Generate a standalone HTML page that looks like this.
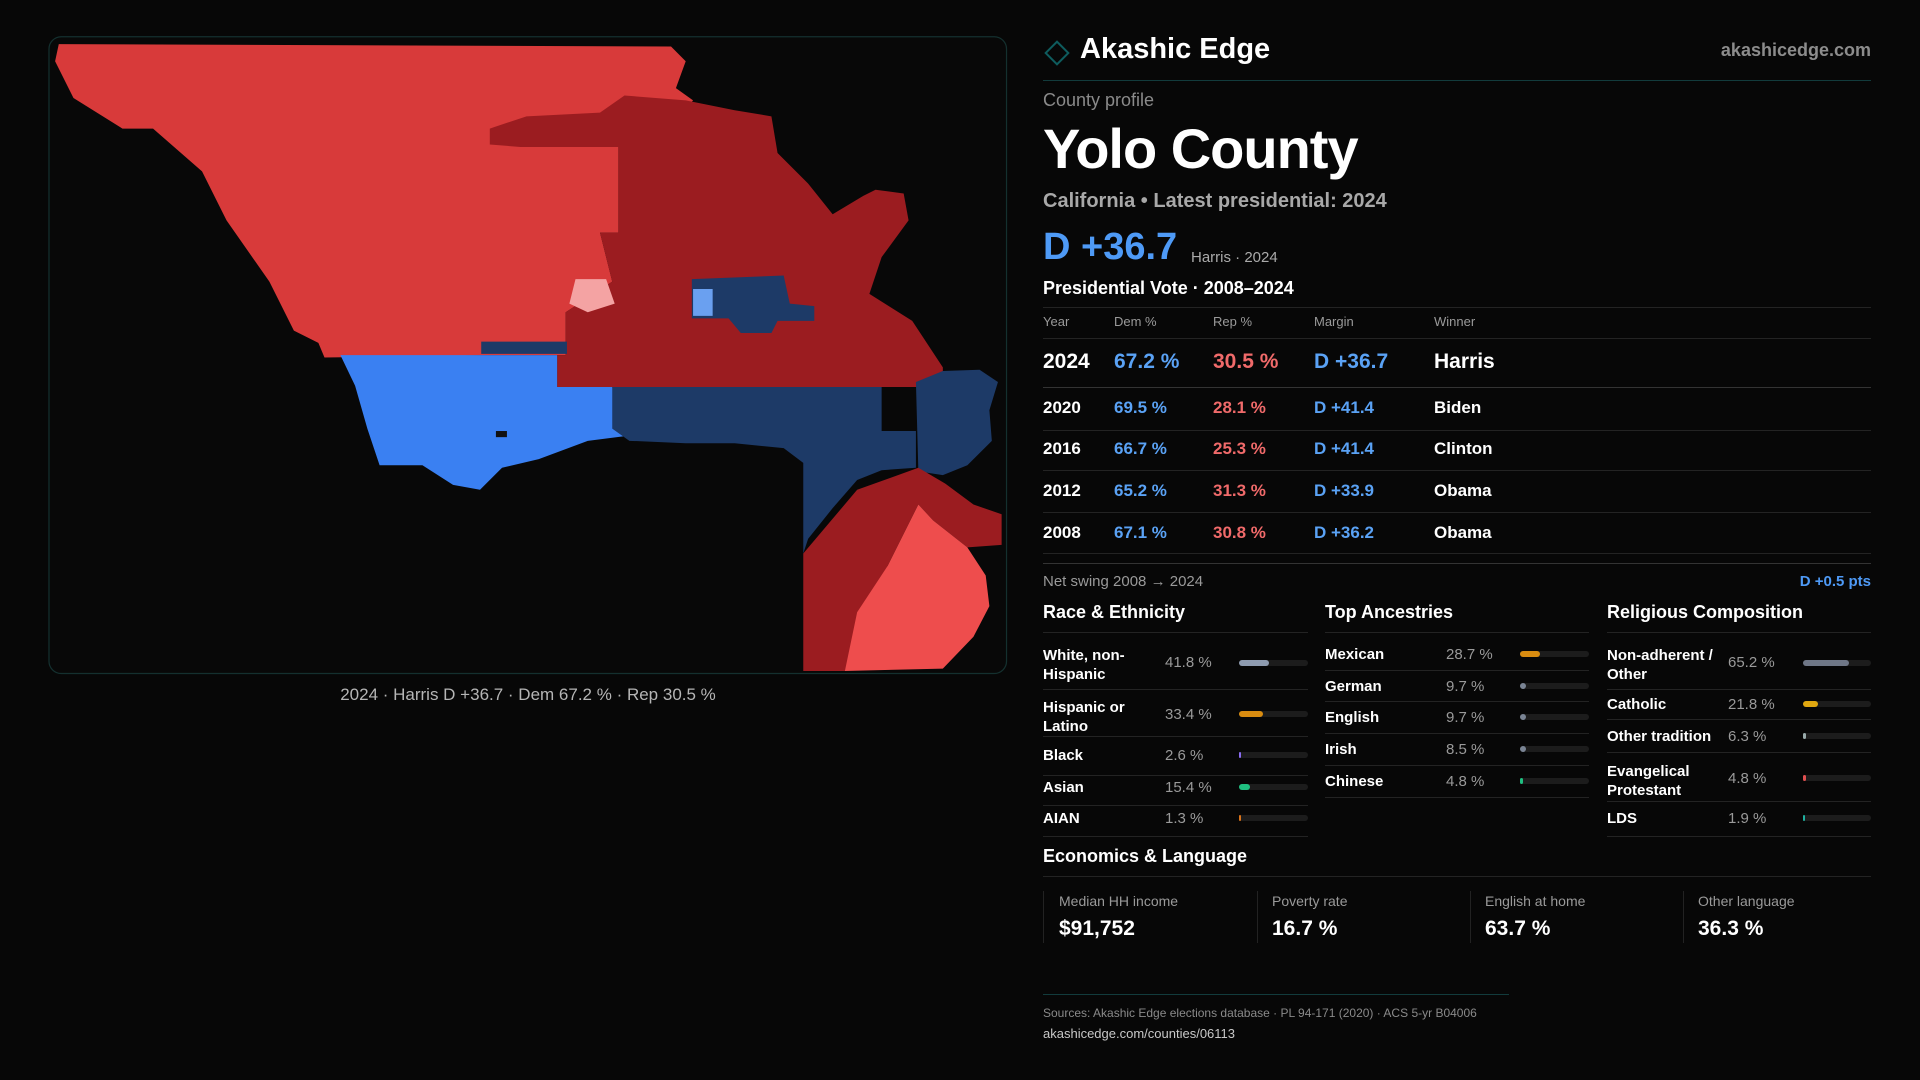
<!DOCTYPE html>
<html><head><meta charset="utf-8"><style>
*{margin:0;padding:0;box-sizing:border-box}
body{width:1920px;height:1080px;background:#070707;font-family:"Liberation Sans",sans-serif;color:#fff;position:relative;overflow:hidden}
.t{position:absolute;white-space:nowrap;line-height:1}
.g{color:#9a9a9a}
.b{color:#5aa2f5}
.r{color:#f06a6a}
.hl{position:absolute;height:1px;background:#232323}
.bar{position:absolute;height:6px;border-radius:3px;background:#1c1c1c}
.bar i{position:absolute;left:0;top:0;height:6px;border-radius:3px}
</style></head><body>
<svg style="position:absolute;left:0;top:0" width="1920" height="1080" viewBox="0 0 1568 882">
<rect x="40" y="30" width="782" height="520" rx="10" fill="#080808" stroke="#14302f" stroke-width="1"/>
<polygon fill="#d83a3a" points="48,36 548,38 560,50 552,72 566,82 550,100 505,110 505,190 490,190 500,230 462,255 462,290 400,290 265,292 260,280 240,270 220,230 185,180 165,140 125,105 100,105 60,80 45,50"/>
<polygon fill="#9b1c20" points="400,105 430,95 490,92 510,78 560,82 600,90 630,95 635,125 660,150 680,175 705,160 715,155 738,158 742,180 720,210 710,240 745,262 770,300 770,316 455,316 455,290 462,290 462,255 500,230 490,190 505,190 505,120 425,120 400,118"/>
<polygon fill="#f4a3a3" points="470,228 495,228 502,248 480,255 465,248"/>
<polygon fill="#1d3a67" points="565,228 640,225 645,248 665,250 665,262 635,262 630,272 605,272 595,260 565,260"/>
<polygon fill="#6aa0f0" points="566,236 582,236 582,258 566,258"/>
<polygon fill="#3a80f2" points="278,290 455,290 455,316 500,316 512,356 480,360 440,375 410,382 392,400 370,396 345,380 310,380 300,350 290,315"/>
<polygon fill="#1d3a67" points="500,316 720,316 720,352 748,352 748,382 720,384 700,392 680,415 660,440 656,452 656,378 640,366 600,362 560,362 514,360 500,350"/>
<polygon fill="#1d3a67" points="748,312 770,303 800,302 815,312 808,335 810,360 790,380 770,388 750,385"/>
<polygon fill="#9b1c20" points="656,452 700,400 750,382 772,395 795,412 818,420 818,445 790,447 762,425 750,412 725,462 690,548 656,548"/>
<polygon fill="#ee4d4d" points="750,412 762,425 790,447 805,470 808,495 795,520 770,546 690,548 700,500 725,462"/>
<rect x="393" y="279" width="70" height="10" fill="#1d3a67"/>
<rect x="405" y="352" width="9" height="5" fill="#111"/>
</svg>
<div class="t" style="left:0;width:1056px;text-align:center;top:686px;font-size:17px;color:#b5b5b5">2024 · Harris D +36.7 · Dem 67.2 % · Rep 30.5 %</div>

<div style="position:absolute;left:1048px;top:44px;width:18px;height:18px;border:2px solid #0e5c5e;transform:rotate(45deg)"></div>
<div class="t" style="left:1080px;top:35px;font-size:29px;font-weight:bold">Akashic Edge</div>
<div class="t g" style="right:49px;top:41px;font-size:18px;font-weight:bold;color:#8c8c8c">akashicedge.com</div>
<div class="hl" style="left:1043px;width:828px;top:80px;background:#123b3c"></div>
<div class="t g" style="left:1043px;top:91px;font-size:18px;color:#8a8a8a">County profile</div>
<div class="t" style="left:1043px;top:121px;font-size:56px;font-weight:bold;letter-spacing:-1px">Yolo County</div>
<div class="t" style="left:1043px;top:191px;font-size:20px;font-weight:bold;color:#a8a8a8">California • Latest presidential: 2024</div>
<div class="t b" style="left:1043px;top:228px;font-size:38px;font-weight:bold;color:#4e9af6">D +36.7</div>
<div class="t" style="left:1191px;top:250px;font-size:15px;color:#aaa">Harris · 2024</div>
<div class="t" style="left:1043px;top:279px;font-size:18px;font-weight:bold">Presidential Vote · 2008–2024</div>
<div class="hl" style="left:1043px;width:828px;top:307px"></div>
<div class="t g" style="left:1043px;top:315px;font-size:13px">Year</div>
<div class="t g" style="left:1114px;top:315px;font-size:13px">Dem %</div>
<div class="t g" style="left:1213px;top:315px;font-size:13px">Rep %</div>
<div class="t g" style="left:1314px;top:315px;font-size:13px">Margin</div>
<div class="t g" style="left:1434px;top:315px;font-size:13px">Winner</div>
<div class="hl" style="left:1043px;width:828px;top:338px"></div>
<div class="t" style="left:1043px;top:351px;font-size:21px;font-weight:bold">2024</div>
<div class="t b" style="left:1114px;top:351px;font-size:21px;font-weight:bold">67.2 %</div>
<div class="t r" style="left:1213px;top:351px;font-size:21px;font-weight:bold">30.5 %</div>
<div class="t b" style="left:1314px;top:351px;font-size:21px;font-weight:bold">D +36.7</div>
<div class="t" style="left:1434px;top:351px;font-size:21px;font-weight:bold">Harris</div>
<div class="hl" style="left:1043px;width:828px;top:387px;background:#333"></div>
<div class="t" style="left:1043px;top:399px;font-size:17px;font-weight:bold">2020</div><div class="t b" style="left:1114px;top:399px;font-size:17px;font-weight:bold">69.5 %</div><div class="t r" style="left:1213px;top:399px;font-size:17px;font-weight:bold">28.1 %</div><div class="t b" style="left:1314px;top:399px;font-size:17px;font-weight:bold">D +41.4</div><div class="t" style="left:1434px;top:399px;font-size:17px;font-weight:bold">Biden</div>
<div class="hl" style="left:1043px;width:828px;top:430px"></div>
<div class="t" style="left:1043px;top:440px;font-size:17px;font-weight:bold">2016</div><div class="t b" style="left:1114px;top:440px;font-size:17px;font-weight:bold">66.7 %</div><div class="t r" style="left:1213px;top:440px;font-size:17px;font-weight:bold">25.3 %</div><div class="t b" style="left:1314px;top:440px;font-size:17px;font-weight:bold">D +41.4</div><div class="t" style="left:1434px;top:440px;font-size:17px;font-weight:bold">Clinton</div>
<div class="hl" style="left:1043px;width:828px;top:470px"></div>
<div class="t" style="left:1043px;top:482px;font-size:17px;font-weight:bold">2012</div><div class="t b" style="left:1114px;top:482px;font-size:17px;font-weight:bold">65.2 %</div><div class="t r" style="left:1213px;top:482px;font-size:17px;font-weight:bold">31.3 %</div><div class="t b" style="left:1314px;top:482px;font-size:17px;font-weight:bold">D +33.9</div><div class="t" style="left:1434px;top:482px;font-size:17px;font-weight:bold">Obama</div>
<div class="hl" style="left:1043px;width:828px;top:512px"></div>
<div class="t" style="left:1043px;top:524px;font-size:17px;font-weight:bold">2008</div><div class="t b" style="left:1114px;top:524px;font-size:17px;font-weight:bold">67.1 %</div><div class="t r" style="left:1213px;top:524px;font-size:17px;font-weight:bold">30.8 %</div><div class="t b" style="left:1314px;top:524px;font-size:17px;font-weight:bold">D +36.2</div><div class="t" style="left:1434px;top:524px;font-size:17px;font-weight:bold">Obama</div>
<div class="hl" style="left:1043px;width:828px;top:553px"></div>
<div class="hl" style="left:1043px;width:828px;top:563px;background:#333"></div>
<div class="t g" style="left:1043px;top:574px;font-size:15px">Net swing 2008 → 2024</div>
<div class="t b" style="right:49px;top:574px;font-size:15px;font-weight:bold;color:#4e9af6">D +0.5 pts</div>

<div class="t" style="left:1043px;top:603px;font-size:18px;font-weight:bold">Race &amp; Ethnicity</div>
<div class="t" style="left:1325px;top:603px;font-size:18px;font-weight:bold">Top Ancestries</div>
<div class="t" style="left:1607px;top:603px;font-size:18px;font-weight:bold">Religious Composition</div>
<div class="hl" style="left:1043px;width:265px;top:632px"></div>
<div class="hl" style="left:1325px;width:264px;top:632px"></div>
<div class="hl" style="left:1607px;width:264px;top:632px"></div>

<div class="t" style="left:1043px;top:646px;font-size:15px;font-weight:bold;line-height:19px">White, non-<br>Hispanic</div><div class="t g" style="left:1165px;top:655px;font-size:15px">41.8 %</div><div class="bar" style="left:1239px;width:69px;top:660px"><i style="width:30px;background:#8e9bb0"></i></div>
<div class="hl" style="left:1043px;width:265px;top:689px"></div>
<div class="t" style="left:1043px;top:698px;font-size:15px;font-weight:bold;line-height:19px">Hispanic or<br>Latino</div><div class="t g" style="left:1165px;top:707px;font-size:15px">33.4 %</div><div class="bar" style="left:1239px;width:69px;top:711px"><i style="width:24px;background:#d98c10"></i></div>
<div class="hl" style="left:1043px;width:265px;top:736px"></div>
<div class="t" style="left:1043px;top:748px;font-size:15px;font-weight:bold">Black</div><div class="t g" style="left:1165px;top:748px;font-size:15px">2.6 %</div><div class="bar" style="left:1239px;width:69px;top:752px"><i style="width:2px;background:#8a6cf0"></i></div>
<div class="hl" style="left:1043px;width:265px;top:775px"></div>
<div class="t" style="left:1043px;top:780px;font-size:15px;font-weight:bold">Asian</div><div class="t g" style="left:1165px;top:780px;font-size:15px">15.4 %</div><div class="bar" style="left:1239px;width:69px;top:784px"><i style="width:11px;background:#1fbf80"></i></div>
<div class="hl" style="left:1043px;width:265px;top:805px"></div>
<div class="t" style="left:1043px;top:811px;font-size:15px;font-weight:bold">AIAN</div><div class="t g" style="left:1165px;top:811px;font-size:15px">1.3 %</div><div class="bar" style="left:1239px;width:69px;top:815px"><i style="width:2px;background:#d9731a"></i></div>
<div class="hl" style="left:1043px;width:265px;top:836px"></div>

<div class="t" style="left:1325px;top:647px;font-size:15px;font-weight:bold">Mexican</div><div class="t g" style="left:1446px;top:647px;font-size:15px">28.7 %</div><div class="bar" style="left:1520px;width:69px;top:651px"><i style="width:20px;background:#d98c10"></i></div>
<div class="hl" style="left:1325px;width:264px;top:670px"></div>
<div class="t" style="left:1325px;top:679px;font-size:15px;font-weight:bold">German</div><div class="t g" style="left:1446px;top:679px;font-size:15px">9.7 %</div><div class="bar" style="left:1520px;width:69px;top:683px"><i style="width:6px;background:#7a8494"></i></div>
<div class="hl" style="left:1325px;width:264px;top:701px"></div>
<div class="t" style="left:1325px;top:710px;font-size:15px;font-weight:bold">English</div><div class="t g" style="left:1446px;top:710px;font-size:15px">9.7 %</div><div class="bar" style="left:1520px;width:69px;top:714px"><i style="width:6px;background:#7a8494"></i></div>
<div class="hl" style="left:1325px;width:264px;top:733px"></div>
<div class="t" style="left:1325px;top:742px;font-size:15px;font-weight:bold">Irish</div><div class="t g" style="left:1446px;top:742px;font-size:15px">8.5 %</div><div class="bar" style="left:1520px;width:69px;top:746px"><i style="width:6px;background:#7a8494"></i></div>
<div class="hl" style="left:1325px;width:264px;top:765px"></div>
<div class="t" style="left:1325px;top:774px;font-size:15px;font-weight:bold">Chinese</div><div class="t g" style="left:1446px;top:774px;font-size:15px">4.8 %</div><div class="bar" style="left:1520px;width:69px;top:778px"><i style="width:3px;background:#1fbf80"></i></div>
<div class="hl" style="left:1325px;width:264px;top:797px"></div>

<div class="t" style="left:1607px;top:646px;font-size:15px;font-weight:bold;line-height:19px">Non-adherent /<br>Other</div><div class="t g" style="left:1728px;top:655px;font-size:15px">65.2 %</div><div class="bar" style="left:1803px;width:68px;top:660px"><i style="width:46px;background:#6f7787"></i></div>
<div class="hl" style="left:1607px;width:264px;top:689px"></div>
<div class="t" style="left:1607px;top:697px;font-size:15px;font-weight:bold">Catholic</div><div class="t g" style="left:1728px;top:697px;font-size:15px">21.8 %</div><div class="bar" style="left:1803px;width:68px;top:701px"><i style="width:15px;background:#e0a810"></i></div>
<div class="hl" style="left:1607px;width:264px;top:719px"></div>
<div class="t" style="left:1607px;top:729px;font-size:15px;font-weight:bold">Other tradition</div><div class="t g" style="left:1728px;top:729px;font-size:15px">6.3 %</div><div class="bar" style="left:1803px;width:68px;top:733px"><i style="width:3px;background:#9aa"></i></div>
<div class="hl" style="left:1607px;width:264px;top:752px"></div>
<div class="t" style="left:1607px;top:762px;font-size:15px;font-weight:bold;line-height:19px">Evangelical<br>Protestant</div><div class="t g" style="left:1728px;top:771px;font-size:15px">4.8 %</div><div class="bar" style="left:1803px;width:68px;top:775px"><i style="width:3px;background:#e05050"></i></div>
<div class="hl" style="left:1607px;width:264px;top:801px"></div>
<div class="t" style="left:1607px;top:811px;font-size:15px;font-weight:bold">LDS</div><div class="t g" style="left:1728px;top:811px;font-size:15px">1.9 %</div><div class="bar" style="left:1803px;width:68px;top:815px"><i style="width:2px;background:#1fb0a0"></i></div>
<div class="hl" style="left:1607px;width:264px;top:836px"></div>

<div class="t" style="left:1043px;top:847px;font-size:18px;font-weight:bold">Economics &amp; Language</div>
<div class="hl" style="left:1043px;width:828px;top:876px"></div>
<div style="position:absolute;left:1043px;top:891px;width:1px;height:52px;background:#222"></div>
<div style="position:absolute;left:1257px;top:891px;width:1px;height:52px;background:#222"></div>
<div style="position:absolute;left:1470px;top:891px;width:1px;height:52px;background:#222"></div>
<div style="position:absolute;left:1683px;top:891px;width:1px;height:52px;background:#222"></div>
<div class="t g" style="left:1059px;top:894px;font-size:14px">Median HH income</div><div class="t" style="left:1059px;top:918px;font-size:21px;font-weight:bold">$91,752</div>
<div class="t g" style="left:1272px;top:894px;font-size:14px">Poverty rate</div><div class="t" style="left:1272px;top:918px;font-size:21px;font-weight:bold">16.7 %</div>
<div class="t g" style="left:1485px;top:894px;font-size:14px">English at home</div><div class="t" style="left:1485px;top:918px;font-size:21px;font-weight:bold">63.7 %</div>
<div class="t g" style="left:1698px;top:894px;font-size:14px">Other language</div><div class="t" style="left:1698px;top:918px;font-size:21px;font-weight:bold">36.3 %</div>

<div class="hl" style="left:1043px;width:466px;top:994px;background:#123b3c"></div>
<div class="t g" style="left:1043px;top:1007px;font-size:12px;color:#8a8a8a">Sources: Akashic Edge elections database · PL 94-171 (2020) · ACS 5-yr B04006</div>
<div class="t" style="left:1043px;top:1027px;font-size:13px;color:#c8c8c8">akashicedge.com/counties/06113</div>
</body></html>
